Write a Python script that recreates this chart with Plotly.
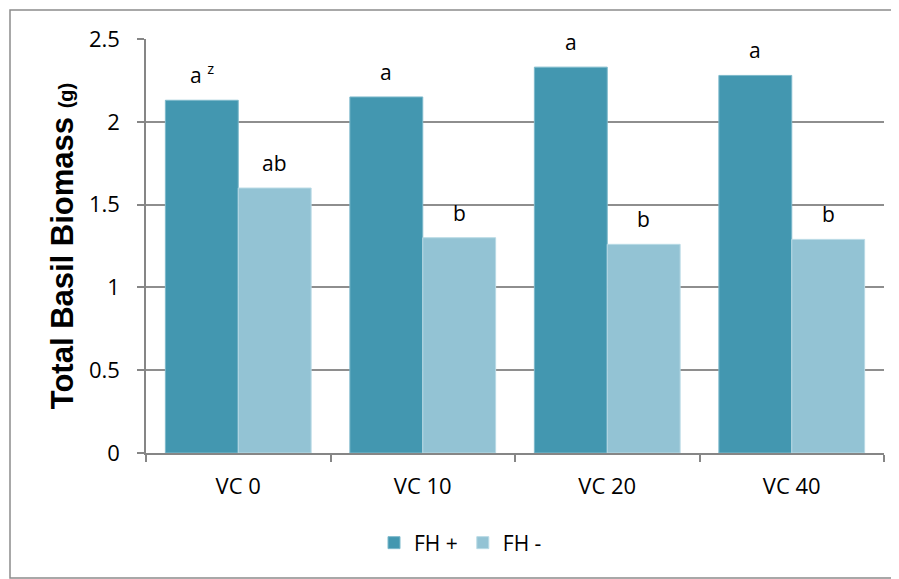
import plotly.graph_objects as go

categories = ["VC 0", "VC 10", "VC 20", "VC 40"]
fh_plus = [2.13, 2.15, 2.33, 2.28]
fh_minus = [1.60, 1.30, 1.26, 1.29]
labels_plus = ["a <sup>z</sup>", "a", "a", "a"]
labels_minus = ["ab", "b", "b", "b"]
y_ticks = [0, 0.5, 1, 1.5, 2, 2.5]
y_tick_text = ["0", "0.5", "1", "1.5", "2", "2.5"]

c_plus = "#4397B0"
c_minus = "#93C3D4"
font = "Open Sans"

# page offset from default body margin
OFF = 8
PL, PT, PW, PH = 146, 39, 738, 414  # plot area in page pixels

fig = go.Figure()
fig.add_trace(go.Bar(name="FH +", x=categories, y=fh_plus,
                     marker=dict(color=c_plus, line=dict(color="#7DB9CB", width=1))))
fig.add_trace(go.Bar(name="FH -", x=categories, y=fh_minus,
                     marker=dict(color=c_minus, line=dict(color="#B9DAE5", width=1))))

bar_px = 73
for cat, v, t in zip(categories, fh_plus, labels_plus):
    fig.add_annotation(x=cat, y=v, text=t, showarrow=False, xref="x", yref="y",
                       xshift=-bar_px / 2, yshift=9, yanchor="bottom",
                       font=dict(family=font, size=21, color="black"))
for cat, v, t in zip(categories, fh_minus, labels_minus):
    fig.add_annotation(x=cat, y=v, text=t, showarrow=False, xref="x", yref="y",
                       xshift=bar_px / 2, yshift=9, yanchor="bottom",
                       font=dict(family=font, size=21, color="black"))

# outer chart border
fig.add_shape(type="rect", xref="paper", yref="paper",
              x0=(10 - PL) / PW, x1=(897 - PL) / PW,
              y0=(PT + PH - 578) / PH, y1=(PT + PH - 10) / PH,
              line=dict(color="#8C8C8C", width=1.5), fillcolor="rgba(0,0,0,0)", layer="below")

fig.update_layout(
    width=899 - OFF, height=579 - OFF,
    margin=dict(l=PL - OFF, r=899 - OFF - (PL - OFF) - PW, t=PT - OFF, b=579 - OFF - (PT - OFF) - PH),
    paper_bgcolor="white", plot_bgcolor="white",
    barmode="group", bargap=0.21, bargroupgap=0,
    font=dict(family=font, size=22, color="black"),
    showlegend=True,
    legend=dict(orientation="h", x=(374 - PL) / PW, xanchor="left", y=(PT + PH - 543) / PH, yanchor="middle",
                font=dict(family=font, size=21, color="black"), itemwidth=30,
                traceorder="normal"),
    xaxis=dict(showline=True, linecolor="#868686", linewidth=1.5,
               ticks="outside", tickson="boundaries", ticklen=7, tickcolor="#868686",
               tickwidth=1.5, ticklabelstandoff=13, showgrid=False,
               tickfont=dict(family=font, size=22, color="black")),
    yaxis=dict(range=[0, 2.5], tickvals=y_ticks, ticktext=y_tick_text,
               showline=True, linecolor="#868686", linewidth=1.5,
               ticks="outside", ticklen=7, tickcolor="#868686", tickwidth=1.5,
               showgrid=True, gridcolor="#8E8E8E", gridwidth=1.5,
               zeroline=False, ticklabelstandoff=13,
               tickfont=dict(family=font, size=22, color="black"),
               title=dict(text="Total Basil Biomass <span style='font-size:20px'>(g)</span>",
                          font=dict(family="Liberation Sans", size=31, color="black", weight="bold"),
                          standoff=6)),
)

fig.write_html("out.html")
